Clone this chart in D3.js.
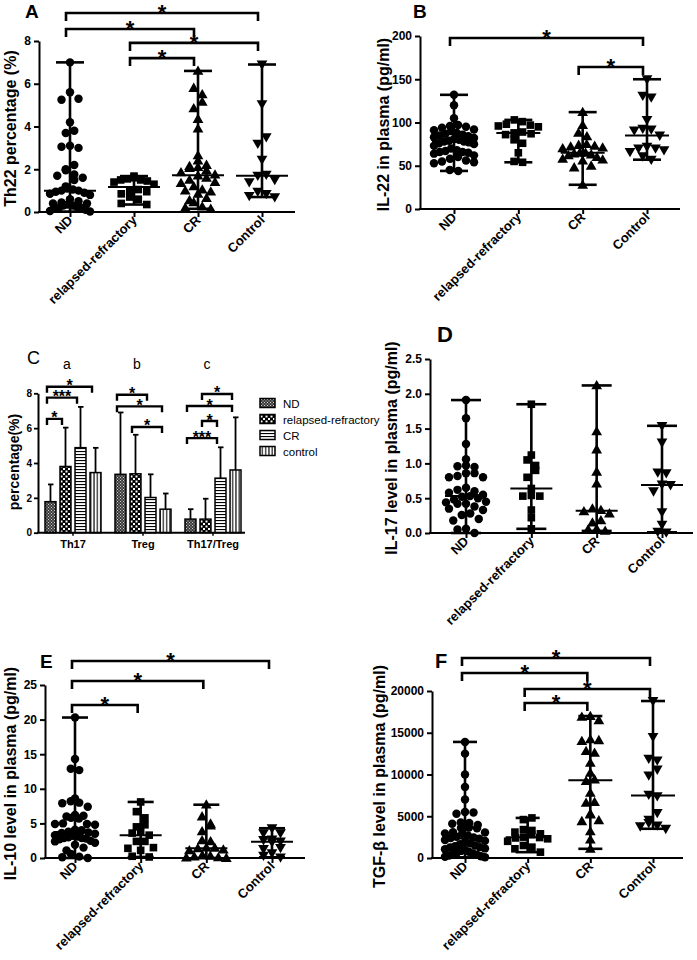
<!DOCTYPE html>
<html>
<head>
<meta charset="utf-8">
<script src="https://cdn.jsdelivr.net/npm/d3@7"></script>
<style>
  html, body { margin: 0; padding: 0; background: #fff; }
  svg { display: block; }
</style>
</head>
<body>
<script>
// ---------------- DATA ----------------
const categories = ["ND", "relapsed-refractory", "CR", "Control"];

// Panel A: Th22 percentage (%)
const th22_ND = [7.0, 5.6, 5.3, 5.25, 4.2, 3.8, 3.7, 3.1, 3.05, 3.0, 2.2, 2.0, 1.95, 1.75, 1.7, 1.6, 1.5, 1.2, 1.1, 1.05, 1.0, 1.0, 0.95, 0.9, 0.85, 0.8, 0.6, 0.5, 0.45, 0.4, 0.4, 0.35, 0.3, 0.3, 0.25, 0.2, 0.2, 0.15, 0.1, 0.05, 0.02];
const th22_RR = [1.68, 1.6, 1.55, 1.5, 1.5, 1.45, 1.4, 1.3, 1.05, 1.0, 0.95, 0.85, 0.7, 0.6, 0.4, 0.35];
const th22_CR = [6.6, 5.8, 5.5, 5.15, 4.85, 4.35, 3.9, 2.65, 2.4, 2.2, 2.15, 2.1, 2.05, 1.95, 1.85, 1.75, 1.7, 1.6, 1.5, 1.4, 1.35, 1.2, 1.05, 1.0, 0.95, 0.85, 0.65, 0.55, 0.45, 0.25, 0.2, 0.15];
const th22_Ctrl = [6.9, 5.05, 3.5, 3.2, 2.45, 1.75, 1.7, 1.5, 1.4, 0.95, 0.85, 0.75, 0.7];
const th22_ticks = [0, 2, 4, 6, 8];
const th22_comparisons = [["ND", "Control", "*"], ["ND", "CR", "*"], ["relapsed-refractory", "Control", "*"], ["relapsed-refractory", "CR", "*"]];

// Panel B: IL-22 in plasma (pg/ml)
const il22_ND = [132, 120, 105, 97, 96, 95, 94, 92, 91, 90, 88, 87, 86, 85, 84, 83, 82, 81, 80, 79, 78, 78, 77, 76, 75, 73, 70, 68, 67, 66, 66, 65, 64, 62, 60, 58, 56, 55, 54, 53, 45, 44];
const il22_RR = [103, 101, 98, 97, 96, 95, 89, 88, 87, 86, 80, 76, 65, 55, 54];
const il22_CR = [112, 97, 88, 84, 75, 74, 73, 72, 71, 70, 65, 65, 64, 63, 62, 60, 58, 57, 56, 50, 48, 28];
const il22_Ctrl = [150, 131, 129, 103, 93, 92, 91, 85, 72, 70, 70, 68, 66, 61, 57];
const il22_ticks = [0, 50, 100, 150, 200];
const il22_comparisons = [["ND", "Control", "*"], ["CR", "Control", "*"]];

// Panel C: percentage(%) bars (mean, SD)
const cGroups = ["Th17", "Treg", "Th17/Treg"];
const cSeries = ["ND", "relapsed-refractory", "CR", "control"];
const c_ND_mean = [1.78, 3.35, 0.78];
const c_ND_sd = [0.99, 3.55, 0.57];
const c_RR_mean = [3.8, 3.38, 0.78];
const c_RR_sd = [2.23, 2.24, 1.17];
const c_CR_mean = [4.88, 2.02, 3.13];
const c_CR_sd = [2.34, 1.33, 1.77];
const c_Ctrl_mean = [3.45, 1.35, 3.6];
const c_Ctrl_sd = [1.42, 0.9, 3.02];
const c_ticks = [0, 2, 4, 6, 8];
const c_groupLetters = ["a", "b", "c"];
// [group, seriesA, seriesB, label]
const c_comparisons = [
  ["Th17", "ND", "control", "*"], ["Th17", "ND", "CR", "***"], ["Th17", "ND", "relapsed-refractory", "*"],
  ["Treg", "ND", "CR", "*"], ["Treg", "ND", "control", "*"], ["Treg", "relapsed-refractory", "control", "*"],
  ["Th17/Treg", "relapsed-refractory", "control", "*"], ["Th17/Treg", "ND", "control", "*"],
  ["Th17/Treg", "relapsed-refractory", "CR", "*"], ["Th17/Treg", "ND", "CR", "***"]
];

// Panel D: IL-17 level in plasma (pg/ml)
const il17_ND = [1.91, 1.65, 1.28, 1.06, 0.97, 0.96, 0.95, 0.86, 0.86, 0.82, 0.8, 0.8, 0.65, 0.62, 0.6, 0.58, 0.55, 0.53, 0.52, 0.5, 0.48, 0.45, 0.44, 0.42, 0.42, 0.38, 0.35, 0.33, 0.28, 0.26, 0.2, 0.18, 0.06, 0.05, 0.0];
const il17_RR = [1.85, 1.12, 1.05, 0.97, 0.9, 0.8, 0.64, 0.54, 0.53, 0.53, 0.33, 0.22, 0.06];
const il17_CR = [2.12, 1.46, 1.2, 0.88, 0.71, 0.35, 0.33, 0.31, 0.28, 0.18, 0.15, 0.06, 0.05, 0.03];
const il17_Ctrl = [1.54, 1.3, 0.87, 0.86, 0.7, 0.69, 0.6, 0.3, 0.12, 0.02, 0.01];
const il17_ticks = [0, 0.5, 1.0, 1.5, 2.0, 2.5];
const il17_comparisons = [];

// Panel E: IL-10 level in plasma (pg/ml)
const il10_ND = [20.3, 14.3, 12.9, 12.7, 8.6, 8.2, 8.0, 7.9, 7.4, 6.2, 6.1, 6.0, 5.8, 5.7, 5.0, 4.9, 4.9, 4.8, 4.1, 4.0, 3.8, 3.7, 3.6, 3.5, 3.3, 3.2, 3.1, 3.0, 2.9, 2.9, 2.8, 2.7, 2.5, 2.4, 2.2, 1.9, 1.5, 1.1, 0.6, 0.2, 0.1, 0.0];
const il10_RR = [8.1, 6.7, 5.8, 4.8, 4.5, 3.85, 3.6, 3.3, 2.4, 2.4, 1.5, 1.4, 1.1, 0.25, 0.15];
const il10_CR = [7.7, 6.0, 4.95, 4.7, 3.85, 2.55, 2.4, 1.5, 1.45, 1.4, 1.2, 1.1, 0.4, 0.3, 0.2, 0.1, 0.05, 0.0];
const il10_Ctrl = [4.3, 3.6, 3.6, 2.7, 2.6, 2.4, 2.3, 1.45, 1.3, 0.7, 0.35, 0.1];
const il10_ticks = [0, 5, 10, 15, 20, 25];
const il10_comparisons = [["ND", "Control", "*"], ["ND", "CR", "*"], ["ND", "relapsed-refractory", "*"]];

// Panel F: TGF-β level in plasma (pg/ml)
const tgf_ND = [13900, 12500, 10000, 8500, 7000, 5500, 5450, 5300, 4250, 4200, 4100, 3950, 3650, 3600, 3550, 3100, 3050, 2950, 2900, 2700, 2550, 2450, 2400, 2300, 2150, 2050, 1900, 1750, 1650, 1500, 1400, 1300, 1250, 1150, 1050, 950, 850, 750, 650, 550, 450, 380, 300, 220, 150, 80];
const tgf_RR = [4800, 4600, 3400, 3300, 3100, 2900, 2800, 2500, 2450, 2400, 2300, 2000, 1500, 1300, 1100, 700];
const tgf_CR = [17000, 16900, 16500, 14200, 14100, 14000, 12800, 12600, 11400, 10200, 9400, 9200, 7800, 6700, 6600, 5300, 5200, 4500, 4400, 3200, 2200, 1100];
const tgf_Ctrl = [18800, 14500, 11900, 11700, 10600, 9900, 7600, 7400, 5400, 4600, 4200, 3900, 3800, 3500];
const tgf_ticks = [0, 5000, 10000, 15000, 20000];
const tgf_comparisons = [["ND", "Control", "*"], ["ND", "CR", "*"], ["relapsed-refractory", "Control", "*"], ["relapsed-refractory", "CR", "*"]];

// ---------------- LAYOUT / STYLE ----------------
const FONT = "Arial, 'Liberation Sans', Helvetica, sans-serif";
const W = 697, H = 960;

const svg = d3.select("body").append("svg")
  .attr("width", W).attr("height", H)
  .attr("font-family", FONT);
svg.append("rect").attr("width", W).attr("height", H).attr("fill", "#fff");

const defs = svg.append("defs");
function makePattern(id, w, h, draw) {
  const p = defs.append("pattern").attr("id", id)
    .attr("patternUnits", "userSpaceOnUse").attr("width", w).attr("height", h);
  draw(p);
}
makePattern("pat-nd", 3, 3, p => {
  p.append("rect").attr("width", 3).attr("height", 3).attr("fill", "#3a3a3a");
  p.append("rect").attr("x", 0).attr("y", 0).attr("width", 1).attr("height", 1).attr("fill", "#cfcfcf");
  p.append("rect").attr("x", 1.5).attr("y", 1.5).attr("width", 1).attr("height", 1).attr("fill", "#cfcfcf");
});
makePattern("pat-rr", 5, 5, p => {
  p.append("rect").attr("width", 5).attr("height", 5).attr("fill", "#000");
  p.append("rect").attr("x", 0.5).attr("y", 0.5).attr("width", 2).attr("height", 2).attr("fill", "#fff");
  p.append("rect").attr("x", 3).attr("y", 3).attr("width", 2).attr("height", 2).attr("fill", "#fff");
});
makePattern("pat-cr", 4, 3, p => {
  p.append("rect").attr("width", 4).attr("height", 3).attr("fill", "#fff");
  p.append("rect").attr("x", 0).attr("y", 1).attr("width", 4).attr("height", 1.1).attr("fill", "#000");
});
makePattern("pat-ctrl", 3.3, 4, p => {
  p.append("rect").attr("width", 3.3).attr("height", 4).attr("fill", "#fff");
  p.append("rect").attr("x", 1.1).attr("y", 0).attr("width", 1.1).attr("height", 4).attr("fill", "#000");
});
const cPatterns = ["url(#pat-nd)", "url(#pat-rr)", "url(#pat-cr)", "url(#pat-ctrl)"];

const shapes = [d3.symbolCircle, d3.symbolSquare, d3.symbolTriangle, d3.symbolTriangle];
const shapeSize = [56, 58, 50, 50];
const shapeRot = [0, 0, 0, 180];
const shapeDy = [0, 0, 0.8, -0.8];

// GraphPad-like row scatter: points are grouped in horizontal rows (bins of binH px),
// spread symmetrically around the centre line, row width capped at +-maxHalf.
function swarm(values, y, binH, step, maxHalf) {
  const pts = values.map(v => ({ v, py: y(v) })).sort((a, b) => b.py - a.py);
  const bins = [];
  let cur = null;
  for (const p of pts) {
    if (!cur || cur.start - p.py >= binH) { cur = { start: p.py, items: [] }; bins.push(cur); }
    cur.items.push(p);
  }
  bins.forEach((b, bi) => {
    const n = b.items.length;
    const s = n > 1 ? Math.min(step, (2 * maxHalf) / (n - 1)) : 0;
    const slots = d3.range(n).map(j => (j - (n - 1) / 2) * s)
      .sort((a, c) => Math.abs(a) - Math.abs(c) || (bi % 2 ? c - a : a - c));
    b.items.slice().sort((a, c) => a.py - c.py).forEach((p, j) => { p.dx = slots[j]; });
  });
  return pts;
}

function styleAxisText(sel, size, weight) {
  sel.attr("font-size", size).attr("font-weight", weight).attr("font-family", FONT).attr("fill", "#000");
}

function drawScatter(L, groups, comps) {
  const g = svg.append("g");
  const x = d3.scalePoint().domain(categories).range(L.xr);
  const y = d3.scaleLinear().domain([0, L.ymax]).range([L.y0, L.yTop]);

  // y axis
  const ya = g.append("g").attr("transform", `translate(${L.ax},0)`)
    .call(d3.axisLeft(y).tickValues(L.ticks).tickFormat(L.fmt).tickSize(5).tickSizeOuter(0).tickPadding(3));
  ya.attr("font-size", null).attr("font-family", null);
  ya.select(".domain").attr("stroke-width", 2).attr("stroke", "#000");
  ya.selectAll(".tick line").attr("stroke-width", 2).attr("stroke", "#000");
  styleAxisText(ya.selectAll("text"), 12, "bold");

  // x axis
  g.append("line").attr("x1", L.ax - 1).attr("x2", L.xEnd).attr("y1", L.y0).attr("y2", L.y0)
    .attr("stroke", "#000").attr("stroke-width", 2);
  const xa = g.append("g").attr("transform", `translate(0,${L.y0})`)
    .call(d3.axisBottom(x).tickSize(5).tickSizeOuter(0));
  xa.attr("font-size", null).attr("font-family", null);
  xa.select(".domain").remove();
  xa.selectAll(".tick line").attr("stroke-width", 2).attr("stroke", "#000");
  styleAxisText(xa.selectAll("text"), 13, "bold");
  xa.selectAll("text").attr("y", 0).attr("dy", 0).attr("text-anchor", "end")
    .attr("transform", "translate(3,9) rotate(-45)");

  // y title
  g.append("text")
    .attr("transform", `translate(${L.labelX},${(L.y0 + L.yTop) / 2 + 2}) rotate(-90)`)
    .attr("text-anchor", "middle").attr("font-size", 16).attr("font-weight", "bold")
    .text(L.title);

  // panel letter
  g.append("text").attr("x", L.lx).attr("y", L.ly).attr("font-size", L.lfs)
    .attr("font-weight", "bold").text(L.letter);

  // groups
  groups.forEach((vals, i) => {
    const cx = x(categories[i]);
    const [mn, mx] = d3.extent(vals);
    const md = d3.median(vals);
    const gg = g.append("g");
    gg.append("line").attr("x1", cx).attr("x2", cx).attr("y1", y(mn)).attr("y2", y(mx))
      .attr("stroke", "#000").attr("stroke-width", 2.6);
    [mn, mx].forEach(v => gg.append("line").attr("x1", cx - L.capW).attr("x2", cx + L.capW)
      .attr("y1", y(v)).attr("y2", y(v)).attr("stroke", "#000").attr("stroke-width", 2.6));
    gg.append("line").attr("x1", cx - L.medW).attr("x2", cx + L.medW)
      .attr("y1", y(md)).attr("y2", y(md)).attr("stroke", "#000").attr("stroke-width", 2);
    const pts = swarm(vals, y, 7.5, 8.5, 20);
    const sym = d3.symbol().type(shapes[i]).size(shapeSize[i]);
    gg.selectAll("path.pt").data(pts).join("path").attr("class", "pt")
      .attr("d", sym)
      .attr("transform", d => `translate(${cx + d.dx},${d.py + shapeDy[i]}) rotate(${shapeRot[i]})`)
      .attr("fill", "#000");
  });

  // significance brackets
  comps.forEach((c, k) => {
    const x1 = x(c[0]) + L.bdx, x2 = x(c[1]) + L.bdx;
    const yl = y(L.levels[k]);
    g.append("path").attr("d", `M${x1},${yl + 8}V${yl}H${x2}V${yl + 8}`)
      .attr("fill", "none").attr("stroke", "#000").attr("stroke-width", 2.6);
    g.append("text").attr("x", (x1 + x2) / 2).attr("y", yl + 7)
      .attr("text-anchor", "middle").attr("font-size", 22).attr("font-weight", "bold").text(c[2]);
  });
}

const fmtInt = d3.format("d");
drawScatter({ ax: 39, xEnd: 295, y0: 212, yTop: 41, ymax: 8, ticks: th22_ticks, fmt: fmtInt,
  xr: [70, 262], title: "Th22 percentage (%)", labelX: 16, letter: "A", lx: 25, ly: 18, lfs: 19,
  capW: 14, medW: 26, bdx: -4, levels: [9.31, 8.56, 7.91, 7.2] },
  [th22_ND, th22_RR, th22_CR, th22_Ctrl], th22_comparisons);

drawScatter({ ax: 420, xEnd: 680, y0: 209, yTop: 36, ymax: 200, ticks: il22_ticks, fmt: fmtInt,
  xr: [454, 647], title: "IL-22 in plasma (pg/ml)", labelX: 389, letter: "B", lx: 413, ly: 18, lfs: 19,
  capW: 14, medW: 22, bdx: -4, levels: [197.7, 164.2] },
  [il22_ND, il22_RR, il22_CR, il22_Ctrl], il22_comparisons);

drawScatter({ ax: 430, xEnd: 693, y0: 533, yTop: 359, ymax: 2.5, ticks: il17_ticks, fmt: d3.format(".1f"),
  xr: [466, 662], title: "IL-17 level in plasma (pg/ml)", labelX: 397, letter: "D", lx: 437, ly: 342, lfs: 22,
  capW: 15, medW: 21, bdx: -3, levels: [] },
  [il17_ND, il17_RR, il17_CR, il17_Ctrl], il17_comparisons);

drawScatter({ ax: 45, xEnd: 305, y0: 858, yTop: 685, ymax: 25, ticks: il10_ticks, fmt: fmtInt,
  xr: [75, 272], title: "IL-10 level in plasma (pg/ml)", labelX: 16, letter: "E", lx: 40, ly: 668, lfs: 19,
  capW: 13, medW: 21, bdx: -3, levels: [28.47, 25.58, 22.11] },
  [il10_ND, il10_RR, il10_CR, il10_Ctrl], il10_comparisons);

drawScatter({ ax: 432, xEnd: 683, y0: 858, yTop: 691, ymax: 20000, ticks: tgf_ticks, fmt: fmtInt,
  xr: [465, 653], title: "TGF-β level in plasma (pg/ml)", labelX: 385, letter: "F", lx: 435, ly: 668, lfs: 20,
  capW: 12, medW: 22, bdx: -3, levels: [23952, 22156, 20240, 18563] },
  [tgf_ND, tgf_RR, tgf_CR, tgf_Ctrl], tgf_comparisons);

// ---------------- PANEL C (grouped bars) ----------------
(function drawC() {
  const L = { ax: 38, xEnd: 245, y0: 532.7, yTop: 393.3 };
  const g = svg.append("g");
  const means = [c_ND_mean, c_RR_mean, c_CR_mean, c_Ctrl_mean];
  const sds = [c_ND_sd, c_RR_sd, c_CR_sd, c_Ctrl_sd];
  const x0 = d3.scaleBand().domain(cGroups).range([38, 248]);
  const x1 = d3.scaleBand().domain(cSeries).range([7, 63]).paddingInner(0.27);
  const y = d3.scaleLinear().domain([0, 8]).range([L.y0, L.yTop]);

  // bars + error bars
  cGroups.forEach((grp, gi) => {
    cSeries.forEach((s, si) => {
      const bx = x0(grp) + x1(s), bw = x1.bandwidth();
      const v = means[si][gi], e = sds[si][gi];
      const cx = bx + bw / 2;
      g.append("line").attr("x1", cx).attr("x2", cx).attr("y1", y(v)).attr("y2", y(v + e))
        .attr("stroke", "#000").attr("stroke-width", 1.8);
      g.append("line").attr("x1", cx - 2.5).attr("x2", cx + 3).attr("y1", y(v + e)).attr("y2", y(v + e))
        .attr("stroke", "#000").attr("stroke-width", 1.8);
      g.append("rect").attr("x", bx).attr("y", y(v)).attr("width", bw).attr("height", y(0) - y(v))
        .attr("fill", cPatterns[si]).attr("stroke", "#000").attr("stroke-width", 1.5);
    });
  });

  // axes
  const ya = g.append("g").attr("transform", `translate(${L.ax},0)`)
    .call(d3.axisLeft(y).tickValues(c_ticks).tickFormat(fmtInt).tickSize(4).tickSizeOuter(0).tickPadding(2));
  ya.attr("font-size", null).attr("font-family", null);
  ya.select(".domain").attr("stroke-width", 2).attr("stroke", "#000");
  ya.selectAll(".tick line").attr("stroke-width", 1.8).attr("stroke", "#000");
  styleAxisText(ya.selectAll("text"), 10, "bold");

  g.append("line").attr("x1", L.ax - 1).attr("x2", L.xEnd).attr("y1", L.y0).attr("y2", L.y0)
    .attr("stroke", "#000").attr("stroke-width", 2);
  const xa = g.append("g").attr("transform", `translate(0,${L.y0})`)
    .call(d3.axisBottom(x0).tickSize(3).tickSizeOuter(0).tickPadding(5));
  xa.attr("font-size", null).attr("font-family", null);
  xa.select(".domain").remove();
  xa.selectAll(".tick line").attr("stroke-width", 1.5).attr("stroke", "#000");
  styleAxisText(xa.selectAll("text"), 11, "bold");

  // y title
  g.append("text").attr("transform", `translate(19,${(L.y0 + L.yTop) / 2 - 1}) rotate(-90)`)
    .attr("text-anchor", "middle").attr("font-size", 14).attr("font-weight", "bold").text("percentage(%)");

  // panel letter and group letters
  g.append("text").attr("x", 27).attr("y", 364).attr("font-size", 18).text("C");
  cGroups.forEach((grp, gi) => {
    g.append("text").attr("x", x0(grp) + x0.bandwidth() / 2 - 6).attr("y", 369)
      .attr("text-anchor", "middle").attr("font-size", 14).text(c_groupLetters[gi]);
  });

  // brackets
  const cLevels = [8.38, 7.75, 6.53, 7.92, 7.25, 6.07, 7.96, 7.27, 6.41, 5.43];
  c_comparisons.forEach((c, k) => {
    const xa1 = x0(c[0]) + x1(c[1]) + x1.bandwidth() / 2 - 3.5;
    const xa2 = x0(c[0]) + x1(c[2]) + x1.bandwidth() / 2 - 3.5;
    const yl = y(cLevels[k]);
    g.append("path").attr("d", `M${xa1},${yl + 6}V${yl}H${xa2}V${yl + 6}`)
      .attr("fill", "none").attr("stroke", "#000").attr("stroke-width", 2.4);
    g.append("text").attr("x", (xa1 + xa2) / 2).attr("y", yl + 4.5)
      .attr("text-anchor", "middle").attr("font-size", 16).attr("font-weight", "bold").text(c[3]);
  });

  // legend
  cSeries.forEach((s, si) => {
    const ly = 403 + si * 16;
    g.append("rect").attr("x", 260).attr("y", ly - 4.5).attr("width", 15).attr("height", 9)
      .attr("fill", cPatterns[si]).attr("stroke", "#000").attr("stroke-width", 1.5);
    g.append("text").attr("x", 283).attr("y", ly + 4.5).attr("font-size", 11.5).text(s);
  });
})();
</script>
</body>
</html>
